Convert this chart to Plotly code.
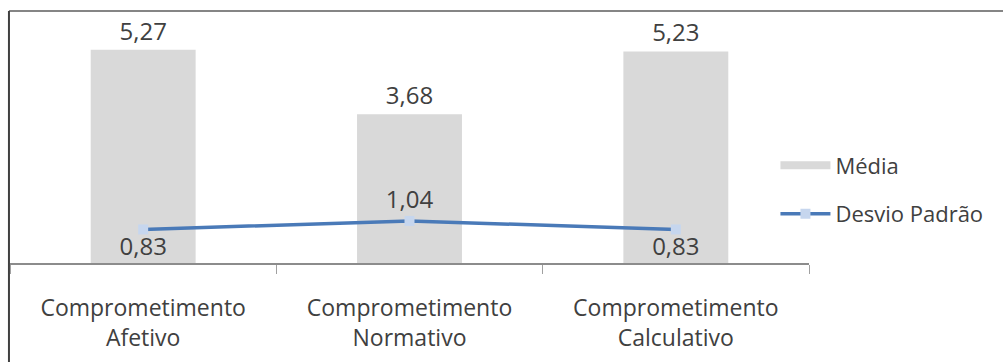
import plotly.graph_objects as go

categories = ["Comprometimento<br>Afetivo", "Comprometimento<br>Normativo", "Comprometimento<br>Calculativo"]
media = [5.27, 3.68, 5.23]
desvio = [0.83, 1.04, 0.83]

FONT = "Open Sans"
TXT = "#404040"
BAR_COLOR = "#d9d9d9"

fig = go.Figure()
fig.add_trace(go.Bar(
    x=categories, y=media, name="Média", legendgroup="media", showlegend=False,
    marker=dict(color=BAR_COLOR, line=dict(width=0)),
    texttemplate="%{y:.2f}", textposition="outside",
    textfont=dict(family=FONT, size=24, color=TXT),
    cliponaxis=False,
))
# legend key for the bars: a wide flat swatch
fig.add_trace(go.Scatter(
    x=[None], y=[None], name="Média", legendgroup="media", mode="lines",
    line=dict(color=BAR_COLOR, width=8), hoverinfo="skip",
))
fig.add_trace(go.Scatter(
    x=categories, y=desvio, name="Desvio Padrão", mode="lines+markers+text",
    legendgroup="desvio",
    line=dict(color="#4a7ab8", width=3.5),
    marker=dict(symbol="square", size=10, color="#c6d6ee", line=dict(width=0)),
    texttemplate="%{y:.2f}",
    textposition=["bottom center", "top center", "bottom center"],
    textfont=dict(family=FONT, size=24, color=TXT),
    cliponaxis=False,
))

# chart frame: top and left edges
fig.add_shape(type="line", xref="paper", yref="paper", x0=-0.0013, x1=1.25, y0=1.0, y1=1.0,
              line=dict(color="#858585", width=2))
fig.add_shape(type="line", xref="paper", yref="paper", x0=-0.0013, x1=-0.0013, y0=1.0, y1=-0.45,
              line=dict(color="#404040", width=2))

fig.update_layout(
    width=1003, height=362,
    margin=dict(l=10, r=194, t=11, b=99),
    plot_bgcolor="white", paper_bgcolor="white",
    separators=",.",
    bargap=0.606,
    showlegend=True,
    legend=dict(
        x=0.958, y=0.29, xanchor="left", yanchor="middle",
        font=dict(family=FONT, size=22, color=TXT),
        itemwidth=50, tracegroupgap=17,
        bgcolor="rgba(0,0,0,0)",
    ),
    font=dict(family=FONT, color=TXT),
)
fig.update_xaxes(
    showline=True, linecolor="#8c8c8c", linewidth=1.5,
    ticks="outside", tickson="boundaries", ticklen=9, tickcolor="#a0a0a0",
    tickfont=dict(family=FONT, size=23, color=TXT),
    ticklabelstandoff=24,
    showgrid=False,
)
fig.update_yaxes(range=[0, 6.23], visible=False, showgrid=False)

fig.write_html("out.html")
